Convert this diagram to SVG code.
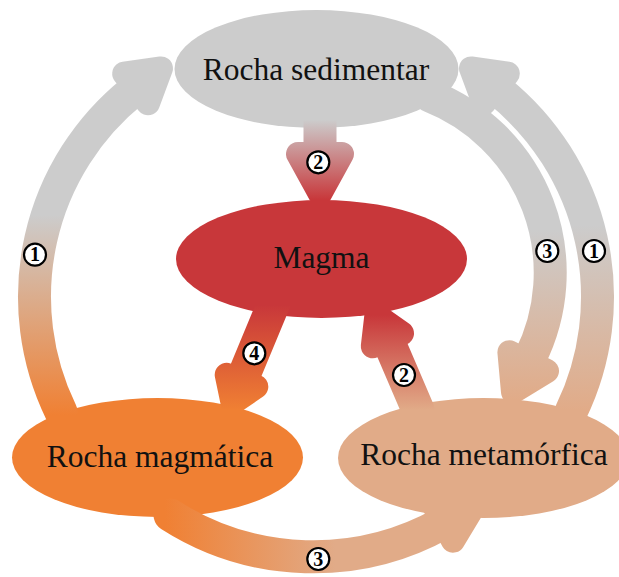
<svg xmlns="http://www.w3.org/2000/svg" width="619" height="577" viewBox="0 0 619 577">
<style>
.lbl{font-family:"Liberation Serif","Times New Roman",serif;font-size:31.5px;fill:#111;text-anchor:middle}
.num{font-family:"Liberation Serif","Times New Roman",serif;font-size:20px;font-weight:bold;fill:#000;text-anchor:middle}
.badge{fill:#fff;stroke:#000;stroke-width:2.2}
.shaft{fill:none;stroke-width:33;stroke-linecap:round}
.head{stroke-width:24;stroke-linejoin:round}
</style>
<defs>
<linearGradient id="gL1" gradientUnits="userSpaceOnUse" x1="0" y1="415" x2="0" y2="215"><stop offset="0" stop-color="#f08033"/><stop offset="1" stop-color="#cccccc"/></linearGradient>
<linearGradient id="gR1" gradientUnits="userSpaceOnUse" x1="0" y1="410" x2="0" y2="225"><stop offset="0" stop-color="#e1ab88"/><stop offset="1" stop-color="#cccccc"/></linearGradient>
<linearGradient id="gR3" gradientUnits="userSpaceOnUse" x1="0" y1="230" x2="0" y2="400"><stop offset="0" stop-color="#cccccc"/><stop offset="1" stop-color="#e1ab88"/></linearGradient>
<linearGradient id="gT2" gradientUnits="userSpaceOnUse" x1="0" y1="120" x2="0" y2="200"><stop offset="0" stop-color="#cccccc"/><stop offset="1" stop-color="#c8373a"/></linearGradient>
<linearGradient id="g4" gradientUnits="userSpaceOnUse" x1="0" y1="305" x2="0" y2="410"><stop offset="0" stop-color="#c8373a"/><stop offset="1" stop-color="#f08033"/></linearGradient>
<linearGradient id="gM2" gradientUnits="userSpaceOnUse" x1="0" y1="410" x2="0" y2="315"><stop offset="0" stop-color="#e1ab88"/><stop offset="1" stop-color="#c8373a"/></linearGradient>
<linearGradient id="gB3" gradientUnits="userSpaceOnUse" x1="165" y1="0" x2="335" y2="0"><stop offset="0" stop-color="#f08033"/><stop offset="1" stop-color="#e1ab88"/></linearGradient>
</defs>

<g id="node-sedimentar">
<ellipse cx="316.5" cy="69" rx="142" ry="59" fill="#cccccc"/>
<text class="lbl" x="316" y="80">Rocha sedimentar</text>
</g>
<g id="node-magma">
<ellipse cx="321.5" cy="259" rx="145.5" ry="59" fill="#c8373a"/>
<text class="lbl" x="321.5" y="268">Magma</text>
</g>
<g id="node-magmatica">
<ellipse cx="157.5" cy="457.5" rx="145.5" ry="59.5" fill="#f08033"/>
<text class="lbl" x="160" y="467">Rocha magmática</text>
</g>
<g id="node-metamorfica">
<ellipse cx="483.5" cy="458" rx="145.5" ry="60" fill="#e1ab88"/>
<text class="lbl" x="484" y="465">Rocha metamórfica</text>
</g>

<g id="connectors">
<g id="c-magmatica-sedimentar">
<path class="shaft" stroke="url(#gL1)" d="M61 412 A264 264 0 0 1 133 91"/>
<polygon class="head" fill="url(#gL1)" stroke="url(#gL1)" points="148,103.3 124.2,73.7 161,68.4"/>
</g>
<g id="c-metamorfica-sedimentar">
<path class="shaft" stroke="url(#gR1)" d="M571 412 A264 264 0 0 0 499 91"/>
<polygon class="head" fill="url(#gR1)" stroke="url(#gR1)" points="484,103.3 507.8,73.7 471,68.4"/>
</g>
<g id="c-sedimentar-metamorfica">
<path class="shaft" stroke="url(#gR3)" d="M430 96 A190 190 0 0 1 530 358"/>
<polygon class="head" fill="url(#gR3)" stroke="url(#gR3)" points="547,371 509.4,352.2 513,391.9"/>
</g>
<g id="c-sedimentar-magma">
<path class="shaft" stroke="url(#gT2)" d="M320 110 L320 154"/>
<polygon class="head" fill="url(#gT2)" stroke="url(#gT2)" points="298,154 342,154 320,194"/>
</g>
<g id="c-magma-magmatica">
<path class="shaft" stroke="url(#g4)" d="M275.2 300 L242 380"/>
<polygon class="head" fill="url(#g4)" stroke="url(#g4)" points="256.3,386.6 226.7,374.8 232.6,403"/>
</g>
<g id="c-metamorfica-magma">
<path class="shaft" stroke="url(#gM2)" d="M418 410 L388 340"/>
<polygon class="head" fill="url(#gM2)" stroke="url(#gM2)" points="402,333.3 372.8,346.3 376.4,315.2"/>
</g>
<g id="c-magmatica-metamorfica">
<path class="shaft" stroke="url(#gB3)" d="M170 515 A266 266 0 0 0 443 523"/>
<polygon class="head" fill="url(#gB3)" stroke="url(#gB3)" points="453,540.7 434,505.5 473.5,506.9"/>
</g>
<g id="labels">
<circle class="badge" cx="35" cy="254.7" r="11"/><text class="num" x="35" y="261.4">1</text>
<circle class="badge" cx="318.3" cy="162.3" r="11"/><text class="num" x="318.3" y="169">2</text>
<circle class="badge" cx="547.3" cy="251" r="11"/><text class="num" x="547.3" y="257.7">3</text>
<circle class="badge" cx="594" cy="251" r="11"/><text class="num" x="594" y="257.7">1</text>
<circle class="badge" cx="254.3" cy="353.3" r="11"/><text class="num" x="254.3" y="360">4</text>
<circle class="badge" cx="404" cy="375" r="11"/><text class="num" x="404" y="381.7">2</text>
<circle class="badge" cx="318.3" cy="559" r="11"/><text class="num" x="318.3" y="565.7">3</text>
</g>
</g>
</svg>
